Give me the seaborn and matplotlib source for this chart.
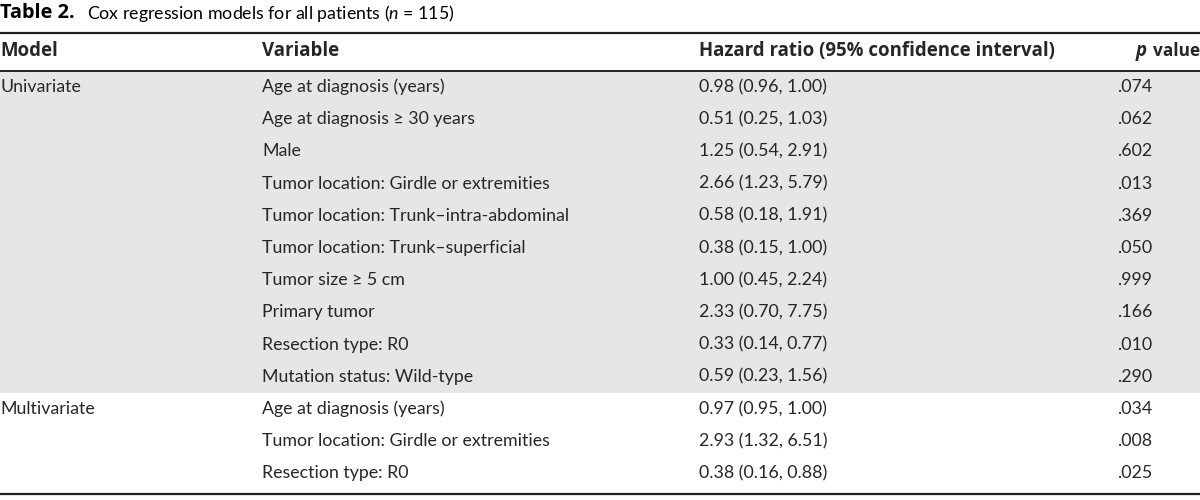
import matplotlib
matplotlib.use("Agg")
import matplotlib.pyplot as plt
import seaborn as sns

# Table content
models = ["Univariate", "", "", "", "", "", "", "", "", "",
          "Multivariate", "", ""]
variables = ["Age at diagnosis (years)",
             "Age at diagnosis \u2265 30 years",
             "Male",
             "Tumor location: Girdle or extremities",
             "Tumor location: Trunk\u2013intra-abdominal",
             "Tumor location: Trunk\u2013superficial",
             "Tumor size \u2265 5 cm",
             "Primary tumor",
             "Resection type: R0",
             "Mutation status: Wild-type",
             "Age at diagnosis (years)",
             "Tumor location: Girdle or extremities",
             "Resection type: R0"]
hazard = ["0.98 (0.96, 1.00)", "0.51 (0.25, 1.03)", "1.25 (0.54, 2.91)",
          "2.66 (1.23, 5.79)", "0.58 (0.18, 1.91)", "0.38 (0.15, 1.00)",
          "1.00 (0.45, 2.24)", "2.33 (0.70, 7.75)", "0.33 (0.14, 0.77)",
          "0.59 (0.23, 1.56)", "0.97 (0.95, 1.00)", "2.93 (1.32, 6.51)",
          "0.38 (0.16, 0.88)"]
pvals = [".074", ".062", ".602", ".013", ".369", ".050", ".999", ".166",
         ".010", ".290", ".034", ".008", ".025"]
headers = ["Model", "Variable", "Hazard ratio (95% confidence interval)"]
n_univariate = 10

sns.set_theme(style="white")
plt.rcParams["font.family"] = ["Lato", "DejaVu Sans"]
plt.rcParams["mathtext.fontset"] = "custom"
plt.rcParams["mathtext.rm"] = "Lato"
plt.rcParams["mathtext.it"] = "Lato:italic"

bold_font = ["Open Sans", "DejaVu Sans"]

fig = plt.figure(figsize=(12, 5), dpi=100)
ax = fig.add_axes([0, 0, 1, 1])
ax.set_xlim(0, 1200)
ax.set_ylim(500, 0)
ax.axis("off")

fs = 12.8
hfs = 13.4
col_x = [0, 262, 699, 1117]
row_h = 32.2
first_row = 87

# title
ax.text(0, 13, "Table 2.", fontsize=14.4, fontweight="bold", family=bold_font,
        va="center", ha="left", color="black")
ax.text(87, 13, r"Cox regression models for all patients ($\it{n}$ = 115)",
        fontsize=12.8, va="center", ha="left", color="black")

# rules
ax.axhline(33, color="#222222", lw=1.6)
ax.axhline(70.5, color="#222222", lw=1.4)
ax.axhline(494, color="#222222", lw=1.6)

# header
hdr_y = 51
for x, h in zip(col_x[:3], headers):
    ax.text(x, hdr_y, h, fontsize=hfs, fontweight="bold", family=bold_font,
            va="center")
ax.text(1200, hdr_y, "value", fontsize=12.4, fontweight="bold", family=bold_font,
        va="center", ha="right")
ax.text(1136, hdr_y, "p", fontsize=hfs, fontweight="bold", fontstyle="italic",
        family=bold_font, va="center", ha="left")

# shaded univariate block
top = first_row - row_h / 2
ax.axhspan(top + 1, top + n_univariate * row_h, color="#e6e6e6", lw=0, zorder=0)

for i in range(len(variables)):
    y = first_row + i * row_h
    ax.text(col_x[0], y, models[i], fontsize=fs, va="center")
    ax.text(col_x[1], y, variables[i], fontsize=fs, va="center")
    ax.text(col_x[2], y, hazard[i], fontsize=fs, va="center")
    ax.text(col_x[3], y, pvals[i], fontsize=fs, va="center")

fig.savefig("out.png", dpi=100)
